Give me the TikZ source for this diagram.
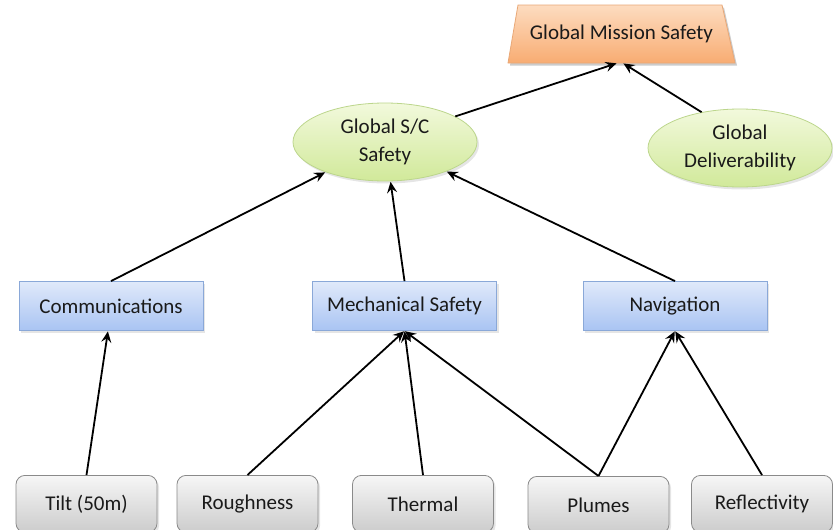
\documentclass[tikz,border=0pt]{standalone}
\usepackage{fontspec}
\setmainfont{Carlito}
\usetikzlibrary{arrows.meta,shapes.geometric,shadows}
\definecolor{txt}{HTML}{1A1A1A}
\tikzset{
  lbl/.style={font=\fontsize{21}{26}\selectfont, text=txt, inner sep=0pt},
  shad/.style={drop shadow={opacity=0.2, shadow xshift=2pt, shadow yshift=-2.5pt}},
  gmsbox/.style={lbl, shape=trapezium, trapezium stretches=true, trapezium left angle=78, trapezium right angle=78,
    minimum width=228pt, minimum height=58pt, draw=orangeline, line width=0.8pt,
    top color=orangetop, bottom color=orangebot, shad},
  ell/.style={lbl, ellipse, align=center, draw=greenline, line width=0.8pt, top color=greentop, bottom color=greenbot,
    minimum width=184pt, minimum height=78pt, shad},
  bluebox/.style={lbl, rectangle, draw=blueline, line width=0.8pt, top color=bluetop, bottom color=bluebot,
    minimum width=184pt, minimum height=49pt, shad},
  graybox/.style={lbl, rectangle, rounded corners=9pt, draw=grayline, line width=0.8pt, top color=graytop, bottom color=graybot,
    minimum width=141pt, minimum height=57pt, shad},
  arr/.style={-{Stealth[length=11pt,width=10pt,inset=4pt]}, line width=1.8pt, black, shorten >=0.5pt},
}
\definecolor{orangetop}{HTML}{FDDCC0}
\definecolor{orangebot}{HTML}{F8AC72}
\definecolor{orangeline}{HTML}{E9A877}
\definecolor{greentop}{HTML}{F2F9DC}
\definecolor{greenbot}{HTML}{D1E99A}
\definecolor{greenline}{HTML}{BCD68C}
\definecolor{bluetop}{HTML}{E0E9FA}
\definecolor{bluebot}{HTML}{A9C4F3}
\definecolor{blueline}{HTML}{8AA8D8}
\definecolor{graytop}{HTML}{F6F6F6}
\definecolor{graybot}{HTML}{CCCCCC}
\definecolor{grayline}{HTML}{8A8A8A}
\begin{document}
\begin{tikzpicture}[x=1pt,y=-1pt]
\useasboundingbox (0,0) rectangle (833,530);
\clip (0,0) rectangle (833,530);
\fill[white] (0,0) rectangle (833,530);
% top: trapezoid outline drawn explicitly, node for text/anchors
\coordinate (gmsTL) at (518,5);
\coordinate (gmsTR) at (722,5);
\coordinate (gmsBR) at (735,63);
\coordinate (gmsBL) at (508,63);
\fill[black, opacity=0.2] ([shift={(2,2.5)}]gmsTL) -- ([shift={(2,2.5)}]gmsTR) -- ([shift={(2,2.5)}]gmsBR) -- ([shift={(2,2.5)}]gmsBL) -- cycle;
\draw[orangeline, line width=0.8pt, top color=orangetop, bottom color=orangebot] (gmsTL) -- (gmsTR) -- (gmsBR) -- (gmsBL) -- cycle;
\node[lbl, minimum width=227pt, minimum height=58pt] (gms) at (621.5,34) {\raisebox{-3pt}{Global Mission Safety}};
\node[ell] (sc) at (385,142) {Global S/C\\[2pt]Safety};
\node[ell] (gd) at (740,148) {Global\\[2pt]Deliverability};
% middle
\node[bluebox] (comm) at (111,306) {Communications};
\node[bluebox] (mech) at (404.5,306) {Mechanical Safety};
\node[bluebox] (nav) at (675,306) {Navigation};
% bottom
\node[graybox, anchor=north] (tilt) at (86.5,475) {Tilt (50m)};
\node[graybox, anchor=north] (rough) at (247.5,475) {Roughness};
\node[graybox, anchor=north] (therm) at (423,475) {Thermal};
\node[graybox, anchor=north] (plum) at (598.5,476) {Plumes};
\node[graybox, anchor=north] (refl) at (762,475) {Reflectivity};
% arrows
\draw[arr] (sc.20) -- ([xshift=-4.5pt]gms.south);
\draw[arr] (gd.137) -- ([xshift=1.5pt]gms.south);
\draw[arr] (comm.north) -- (sc);
\draw[arr] (mech.north) -- (sc);
\draw[arr] (nav.north) -- (sc);
\draw[arr] (tilt.north) -- ([xshift=-3pt]comm.south);
\draw[arr] (rough.north) -- (mech.south);
\draw[arr] (therm.north) -- (mech.south);
\draw[arr] (plum.north) -- (mech.south);
\draw[arr] (plum.north) -- (nav.south);
\draw[arr] (refl.north) -- (nav.south);
\end{tikzpicture}
\end{document}
